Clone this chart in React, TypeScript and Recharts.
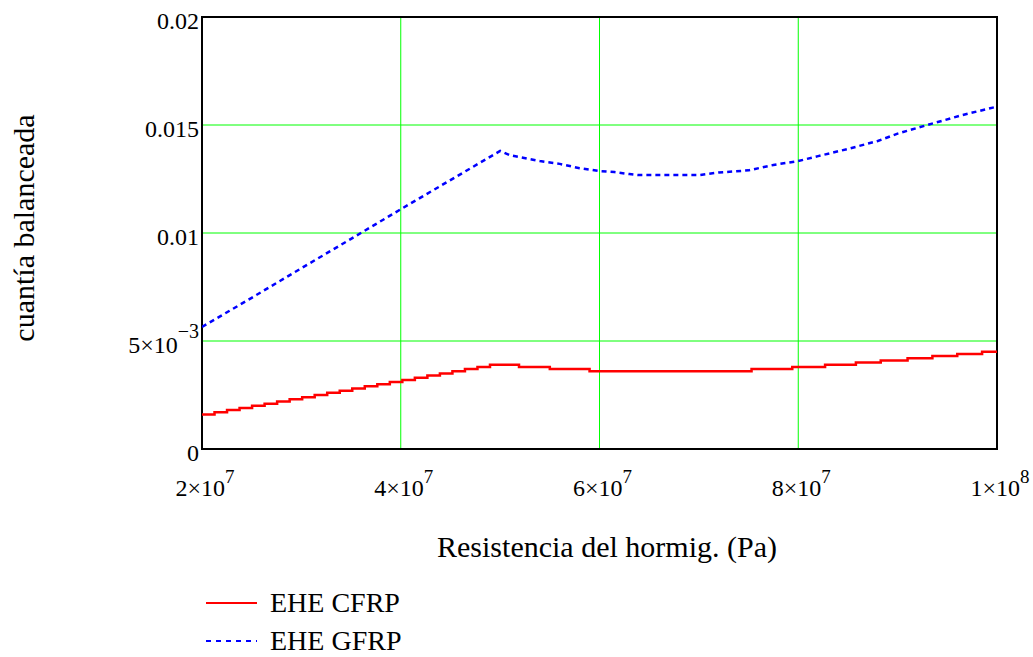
import React from 'react';
import { CartesianGrid, Label, Legend, Line, LineChart, ReferenceArea, XAxis, YAxis } from 'recharts';

// resistencia del hormigón, en 1e6 Pa
const redX = [20, 21.26, 22.52, 23.78, 25.04, 26.3, 27.56, 28.82, 30.08, 31.34, 32.6, 33.86, 35.12, 36.38, 37.64, 38.9, 40.16, 41.42, 42.68, 43.94, 45.2, 46.46, 47.72, 48.98, 51.9, 55.0, 59.0, 75.3, 79.4, 82.7, 85.8, 88.3, 91.0, 93.5, 96.0, 98.5, 100];
const redY = [0.0016, 0.0017, 0.0018, 0.0019, 0.002, 0.0021, 0.0022, 0.0023, 0.0024, 0.0025, 0.0026, 0.0027, 0.0028, 0.0029, 0.003, 0.0031, 0.0032, 0.0033, 0.0034, 0.0035, 0.0036, 0.0037, 0.0038, 0.0039, 0.0038, 0.0037, 0.0036, 0.0037, 0.0038, 0.0039, 0.004, 0.0041, 0.0042, 0.0043, 0.0044, 0.0045, 0.0045];

const blueX = [20, 25, 30, 35, 40, 45, 50, 51, 54, 56, 58, 60, 61.5, 63, 64, 70, 72, 75, 77.5, 80, 82, 85, 88, 90, 93, 96.5, 100];
const blueY = [0.00565, 0.007, 0.00837, 0.00973, 0.0111, 0.01245, 0.0138, 0.0136, 0.01333, 0.0132, 0.013, 0.01287, 0.01282, 0.01273, 0.01268, 0.01268, 0.0128, 0.0129, 0.01315, 0.01333, 0.01356, 0.01389, 0.01426, 0.0146, 0.015, 0.01546, 0.01585];

const xTicks = [2e7, 4e7, 6e7, 8e7, 1e8];
const xTickBase = ['2×10', '4×10', '6×10', '8×10', '1×10'];
const xTickExp = ['7', '7', '7', '7', '8'];

const yTicks = [0, 0.005, 0.01, 0.015, 0.02];
const yTickBase = ['0', '5×10', '0.01', '0.015', '0.02'];
const yTickExp = ['', '−3', '', '', ''];

const seriesNames = ['EHE CFRP', 'EHE GFRP'];
const seriesColors = ['#ff0000', '#0000ff'];

const redData = redX.map((x, i) => ({ x: x * 1e6, y: redY[i] }));
const blueData = blueX.map((x, i) => ({ x: x * 1e6, y: blueY[i] }));

const FONT = "'Liberation Serif', 'Times New Roman', serif";

const XTick = (props: any) => {
  const i = xTicks.indexOf(props.payload.value);
  return (
    <text x={props.x + 3} y={props.y + 45} textAnchor="middle" fontFamily={FONT} fontSize={24} fill="#000">
      <tspan>{xTickBase[i]}</tspan>
      <tspan dy={-13} fontSize={19}>{xTickExp[i]}</tspan>
    </text>
  );
};

const YTick = (props: any) => {
  const i = yTicks.indexOf(props.payload.value);
  return (
    <text x={props.x} y={props.y + 12} textAnchor="end" fontFamily={FONT} fontSize={24} fill="#000">
      <tspan>{yTickBase[i]}</tspan>
      {yTickExp[i] && <tspan dy={-15} fontSize={20}>{yTickExp[i]}</tspan>}
    </text>
  );
};

// leyenda abajo a la izquierda, dibujada en svg para fijar las líneas base
const LegendBox = () => (
  <svg width={260} height={72} style={{ display: 'block', overflow: 'visible' }}>
    {seriesNames.map((name, i) => (
      <g key={name} transform={`translate(0, ${i * 38})`}>
        <line x1={0} x2={51} y1={21} y2={21} stroke={seriesColors[i]} strokeWidth={2}
          strokeDasharray={i === 0 ? undefined : '5 5'} />
        <text x={64} y={30} fontFamily={FONT} fontSize={28} fill="#000">{name}</text>
      </g>
    ))}
  </svg>
);

export default function App() {
  return (
    <div style={{ position: 'absolute', left: 0, top: 0 }}>
      <LineChart width={1033} height={657} margin={{ top: 17, right: 36, bottom: 148, left: 2 }}>
        <CartesianGrid stroke="#00ff00" strokeWidth={1} />
        <XAxis type="number" dataKey="x" domain={[2e7, 1e8]} ticks={xTicks} height={60}
          axisLine={false} tickLine={false} tickSize={0} tick={<XTick />} allowDataOverflow>
          <Label content={() => (
            <text x={607} y={557} textAnchor="middle" fontFamily={FONT} fontSize={30} fill="#000">
              Resistencia del hormig. (Pa)
            </text>
          )} />
        </XAxis>
        <YAxis type="number" domain={[0, 0.02]} ticks={yTicks} width={200}
          axisLine={false} tickLine={false} tickSize={0} tickMargin={3} tick={<YTick />} allowDataOverflow>
          <Label content={() => (
            <text x={34} y={228} transform="rotate(-90 34 228)" textAnchor="middle" fontFamily={FONT} fontSize={30} fill="#000">
              cuantía balanceada
            </text>
          )} />
        </YAxis>
        <Line data={redData} dataKey="y" type="stepAfter" stroke="#ff0000" strokeWidth={2.5}
          dot={false} isAnimationActive={false} />
        <Line data={blueData} dataKey="y" type="linear" stroke="#0000ff" strokeWidth={2.5}
          strokeDasharray="5 4" dot={false} isAnimationActive={false} />
        <ReferenceArea x1={2e7} x2={1e8} y1={0} y2={0.02} fill="none" stroke="#000" strokeWidth={2} />
        <Legend layout="vertical" align="center" verticalAlign="middle" content={<LegendBox />}
          wrapperStyle={{ left: 206, top: 582, width: 260, height: 72 }} />
      </LineChart>
    </div>
  );
}
